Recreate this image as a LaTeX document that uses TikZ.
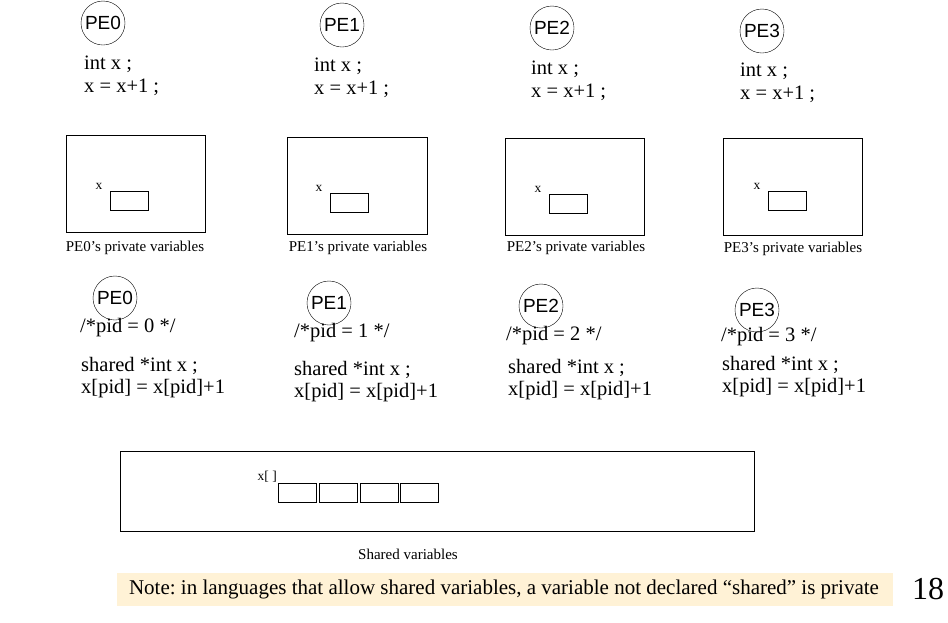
\documentclass[tikz,border=0pt]{standalone}
\usepackage{fontspec}
\setmainfont{Liberation Serif}
\newfontfamily\pesans{Liberation Sans}
\definecolor{notebg}{RGB}{255,242,214}
\frenchspacing
\begin{document}
\begin{tikzpicture}[x=1pt,y=-1pt,
  pe/.style={draw,circle,minimum size=44pt,inner sep=0pt,font=\pesans\fontsize{19}{19}\selectfont},
  code/.style={anchor=west,inner sep=0pt,font=\fontsize{20.5}{20.5}\selectfont},
  mem/.style={draw,line width=1pt},
  cell/.style={draw,line width=1pt,minimum width=38pt,minimum height=19pt,inner sep=0pt},
  small/.style={inner sep=0pt,font=\fontsize{15}{15}\selectfont},
  tiny/.style={inner sep=0pt,font=\fontsize{13.5}{13.5}\selectfont}]
\useasboundingbox (0,0) rectangle (948,622);
% ---------- top row: private ----------
\node[pe] (a0) at (103,23) {PE0};
\node[pe] (a1) at (342,25) {PE1};
\node[pe] (a2) at (552,28) {PE2};
\node[pe] (a3) at (762,31) {PE3};
\node[code] (ai0) at (84,64) {int x ;};
\node[code] (ax0) at (84,87) {x = x+1 ;};
\node[code] (ai1) at (314,66) {int x ;};
\node[code] (ax1) at (314,89) {x = x+1 ;};
\node[code] (ai2) at (531,69) {int x ;};
\node[code] (ax2) at (531,92) {x = x+1 ;};
\node[code] (ai3) at (740,71) {int x ;};
\node[code] (ax3) at (740,94) {x = x+1 ;};
% private boxes
\draw[mem] (66,135) rectangle (205,232);
\draw[mem] (287,137) rectangle (427,234);
\draw[mem] (505,138) rectangle (644,235);
\draw[mem] (723,138) rectangle (862,235);
\node[cell,anchor=north west] (c0) at (110,191) {};
\node[cell,anchor=north west] (c1) at (330,193) {};
\node[cell,anchor=north west] (c2) at (549,194) {};
\node[cell,anchor=north west] (c3) at (768,191) {};
\node[tiny] (cx0) at (99,186) {x};
\node[tiny] (cx1) at (319,188) {x};
\node[tiny] (cx2) at (538,189) {x};
\node[tiny] (cx3) at (757,186) {x};
\node[small] (l0) at (135,248) {PE0’s private variables};
\node[small] (l1) at (358,248) {PE1’s private variables};
\node[small] (l2) at (576,248) {PE2’s private variables};
\node[small] (l3) at (793,249) {PE3’s private variables};
% ---------- second row: shared ----------
\node[pe] (b0) at (115,298) {PE0};
\node[pe] (b1) at (329,303) {PE1};
\node[pe] (b2) at (541,306) {PE2};
\node[pe] (b3) at (757,310) {PE3};
\node[code] (p0) at (80,328) {/*pid = 0 */};
\node[code] (p1) at (294,333) {/*pid = 1 */};
\node[code] (p2) at (506,336) {/*pid = 2 */};
\node[code] (p3) at (721,337) {/*pid = 3 */};
\node[code] (s0) at (81,366) {shared *int x ;};
\node[code] (t0) at (81,389) {x[pid] = x[pid]+1};
\node[code] (s1) at (294,370) {shared *int x ;};
\node[code] (t1) at (294,393) {x[pid] = x[pid]+1};
\node[code] (s2) at (508,368) {shared *int x ;};
\node[code] (t2) at (508,391) {x[pid] = x[pid]+1};
\node[code] (s3) at (722,365) {shared *int x ;};
\node[code] (t3) at (722,388) {x[pid] = x[pid]+1};
% shared box
\draw[mem] (120,451) rectangle (754,531);
\node[cell,anchor=north west] (d0) at (278,483) {};
\node[cell,anchor=north west] (d1) at (319,483) {};
\node[cell,anchor=north west] (d2) at (360,483) {};
\node[cell,anchor=north west] (d3) at (400,483) {};
\node[tiny,anchor=east] (dx) at (277,477) {x[ ]};
\node[small] (sv) at (408,554) {Shared variables};
% note
\fill[notebg] (117,573) rectangle (893,606);
\node[inner sep=0pt,font=\fontsize{21}{21}\selectfont] (note) at (504,589) {Note: in languages that allow shared variables, a variable not declared “shared” is private};
\node[inner sep=0pt,font=\fontsize{32}{32}\selectfont] (pg) at (928,589) {18};
\end{tikzpicture}
\end{document}
